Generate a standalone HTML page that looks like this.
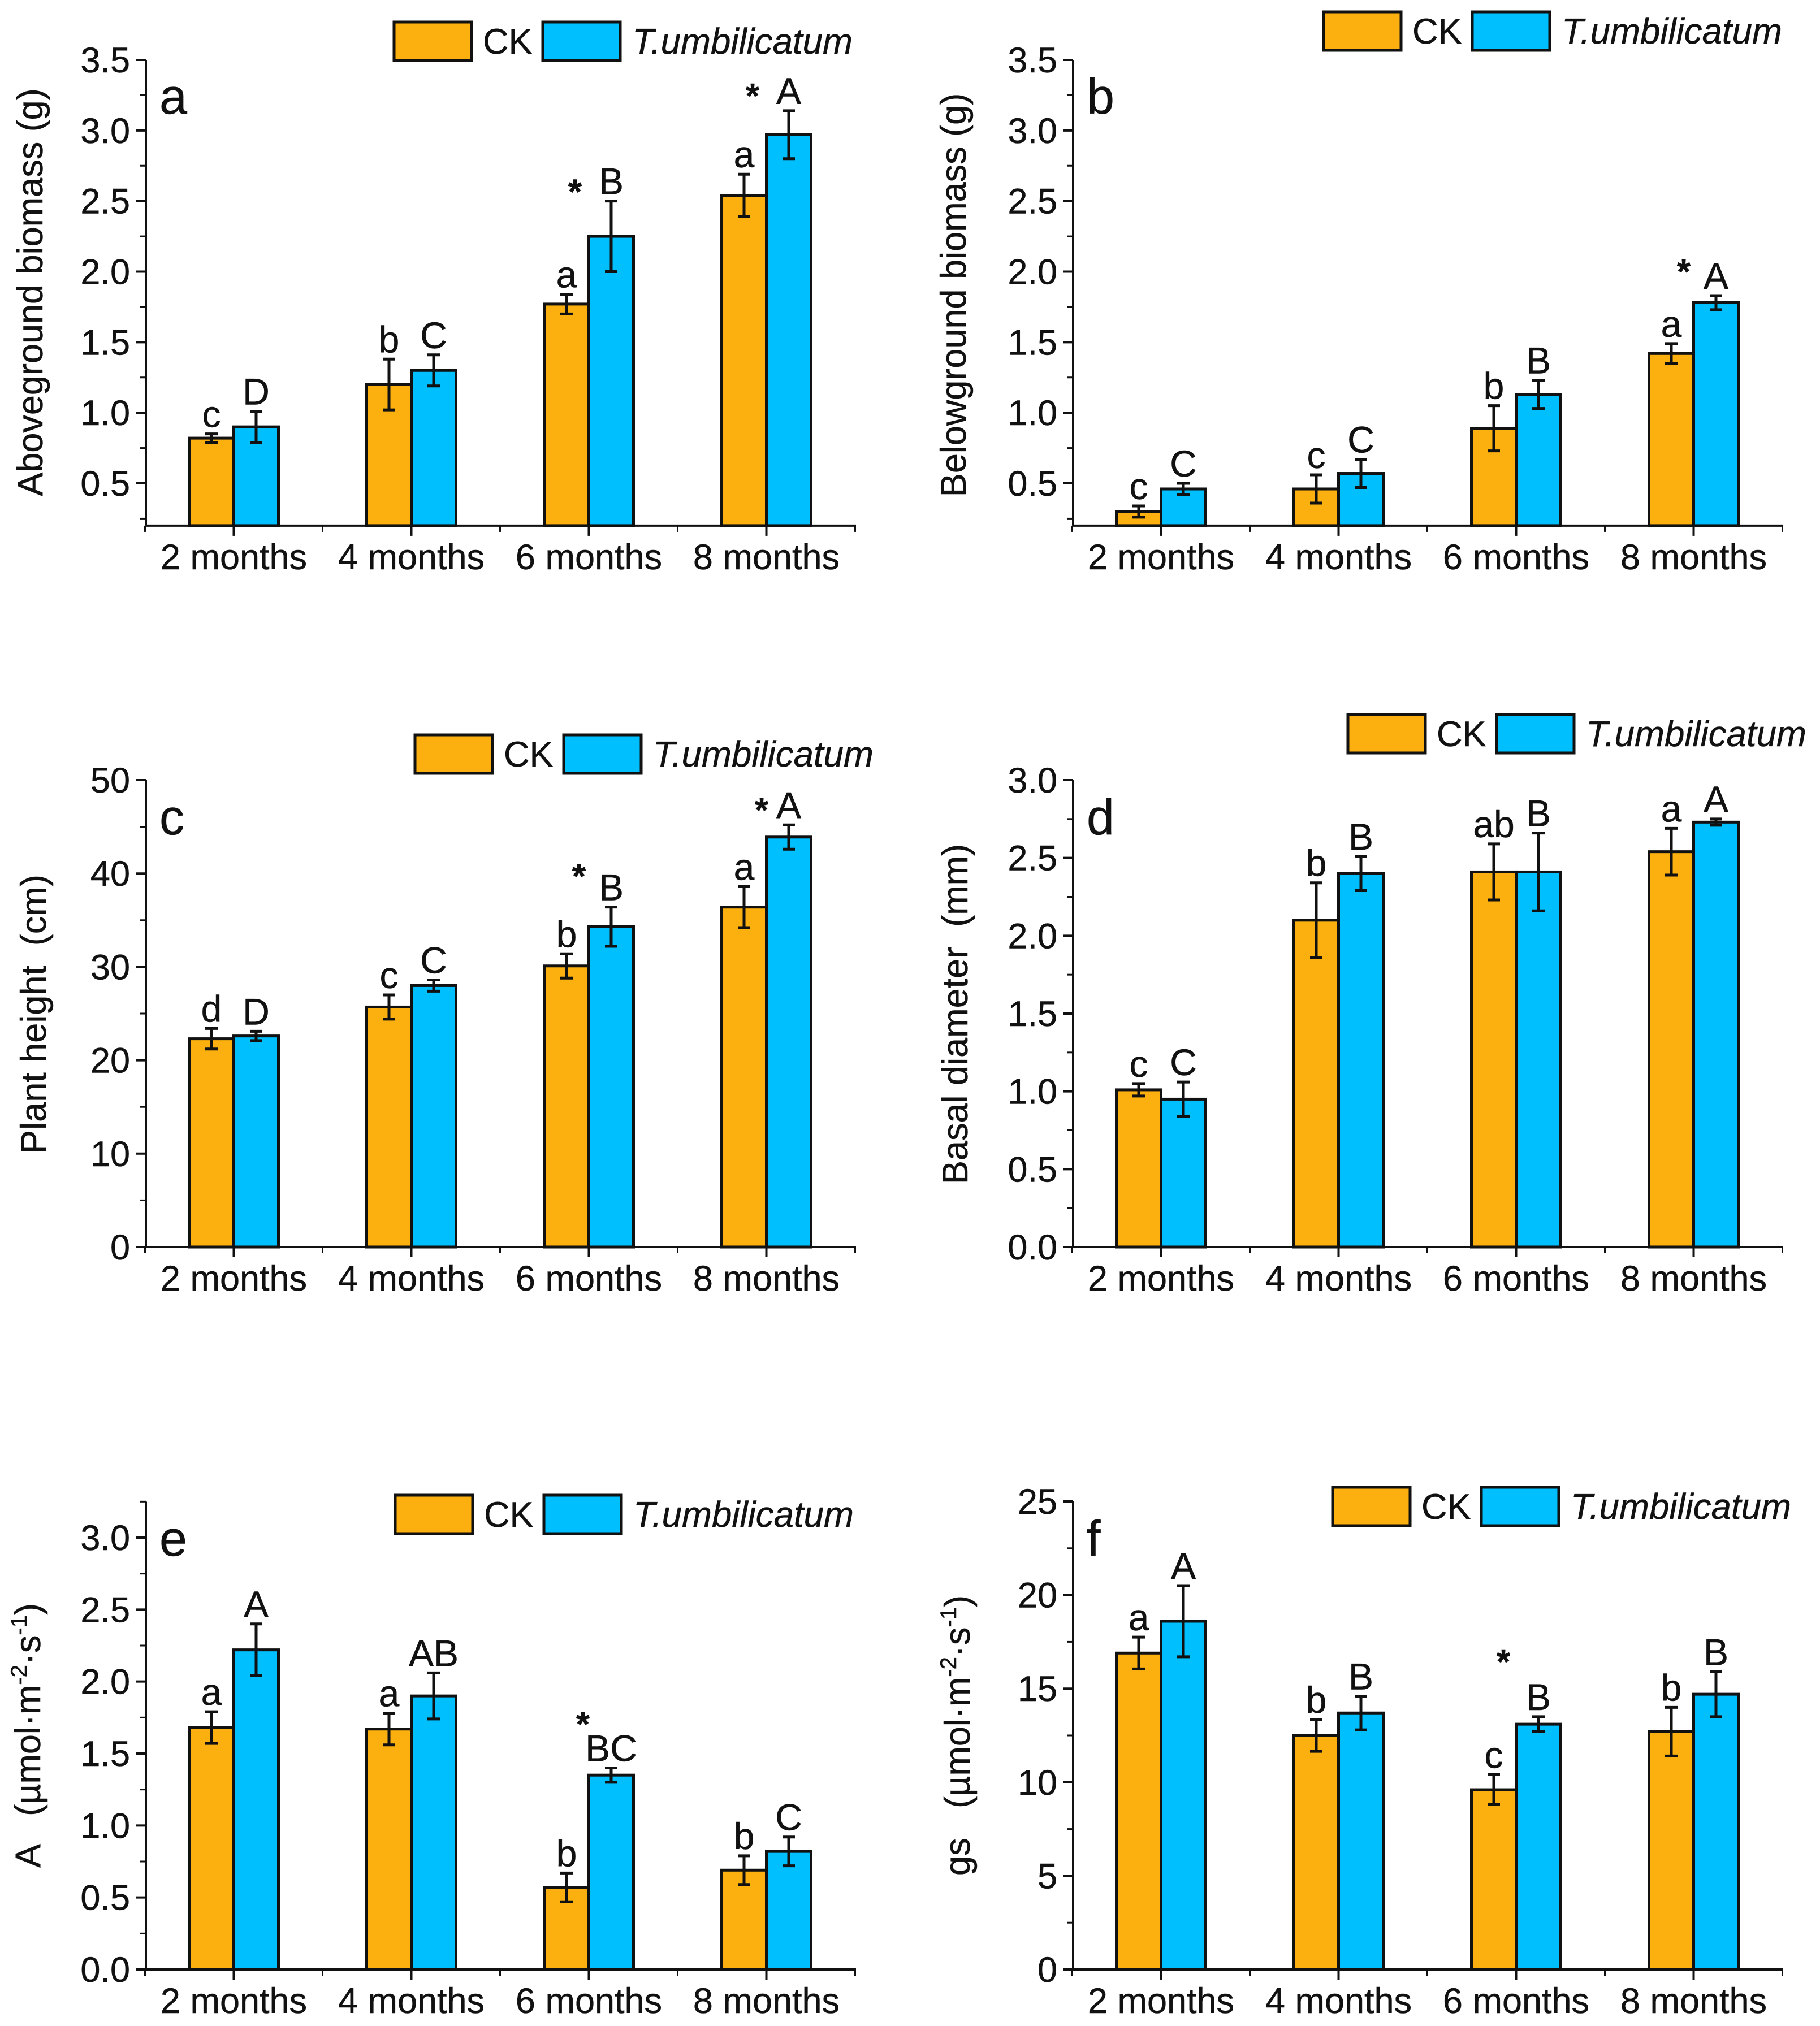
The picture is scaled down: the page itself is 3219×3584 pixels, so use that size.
<!DOCTYPE html>
<html lang="en">
<head>
<meta charset="utf-8">
<title>Growth and photosynthesis charts</title>
<style>
html,body{margin:0;padding:0;background:#fff;}
svg{display:block;}
text{font-family:"Liberation Sans",Arial,sans-serif;fill:#111;stroke:#111;stroke-width:0.5px;white-space:pre;}
</style>
</head>
<body>
<svg id="figure" xmlns="http://www.w3.org/2000/svg" width="3219" height="3584" viewBox="0 0 3219 3584"></svg>
<script>
const categories = ['2 months', '4 months', '6 months', '8 months'];

const aCk = [0.82, 1.2, 1.77, 2.54];
const aCkErr = [0.03, 0.18, 0.07, 0.15];
const aT = [0.9, 1.3, 2.25, 2.97];
const aTErr = [0.11, 0.11, 0.25, 0.17];
const aCkLetters = ['c', 'b', 'a', 'a'];
const aTLetters = ['D', 'C', 'B', 'A'];
const aTicks = ['0.5', '1.0', '1.5', '2.0', '2.5', '3.0', '3.5'];

const bCk = [0.3, 0.46, 0.89, 1.42];
const bCkErr = [0.04, 0.1, 0.16, 0.07];
const bT = [0.46, 0.57, 1.13, 1.78];
const bTErr = [0.04, 0.1, 0.1, 0.05];
const bCkLetters = ['c', 'c', 'b', 'a'];
const bTLetters = ['C', 'C', 'B', 'A'];
const bTicks = ['0.5', '1.0', '1.5', '2.0', '2.5', '3.0', '3.5'];

const cCk = [22.3, 25.7, 30.1, 36.4];
const cCkErr = [1.1, 1.3, 1.3, 2.2];
const cT = [22.6, 28, 34.3, 43.9];
const cTErr = [0.5, 0.6, 2.1, 1.3];
const cCkLetters = ['d', 'c', 'b', 'a'];
const cTLetters = ['D', 'C', 'B', 'A'];
const cTicks = ['0', '10', '20', '30', '40', '50'];

const dCk = [1.01, 2.1, 2.41, 2.54];
const dCkErr = [0.04, 0.24, 0.18, 0.15];
const dT = [0.95, 2.4, 2.41, 2.73];
const dTErr = [0.11, 0.11, 0.25, 0.02];
const dCkLetters = ['c', 'b', 'ab', 'a'];
const dTLetters = ['C', 'B', 'B', 'A'];
const dTicks = ['0.0', '0.5', '1.0', '1.5', '2.0', '2.5', '3.0'];

const eCk = [1.68, 1.67, 0.57, 0.69];
const eCkErr = [0.11, 0.11, 0.1, 0.1];
const eT = [2.22, 1.9, 1.35, 0.82];
const eTErr = [0.18, 0.16, 0.05, 0.1];
const eCkLetters = ['a', 'a', 'b', 'b'];
const eTLetters = ['A', 'AB', 'BC', 'C'];
const eTicks = ['0.0', '0.5', '1.0', '1.5', '2.0', '2.5', '3.0'];

const fCk = [16.9, 12.5, 9.6, 12.7];
const fCkErr = [0.85, 0.85, 0.8, 1.3];
const fT = [18.6, 13.7, 13.1, 14.7];
const fTErr = [1.9, 0.9, 0.4, 1.2];
const fCkLetters = ['a', 'b', 'c', 'b'];
const fTLetters = ['A', 'B', 'B', 'B'];
const fTicks = ['0', '5', '10', '15', '20', '25'];

const legendLabels = ['CK', 'T.umbilicatum'];

const NS = 'http://www.w3.org/2000/svg';
const FONT = 63;
const CK_FILL = '#FBB010';
const T_FILL = '#00BFFF';
const INK = '#111';

function add(parent, tag, attrs, content) {
  const el = document.createElementNS(NS, tag);
  for (const k in attrs) el.setAttribute(k, attrs[k]);
  if (content !== undefined) el.textContent = content;
  parent.appendChild(el);
  return el;
}

function drawPanel(p) {
  const svg = document.getElementById('figure');
  const g = add(svg, 'g', {});
  
  

  const yScale = v => p.y0 + (v - p.v0) * (p.y1 - p.y0) / (p.v1 - p.v0);
  const groupWidth = 314;
  const barWidth = 79;
  const groupX = i => p.left + groupWidth / 2 - 1.5 + groupWidth * i;
  const xEnd = p.left + groupWidth * categories.length;
  const axisBottom = yScale(p.vMin);
  const axisTop = yScale(p.vMax);

  const series = [
    { key: 'ck', vals: p.ck, errs: p.ckErr, letters: p.ckLetters, fill: CK_FILL, off: -barWidth },
    { key: 't', vals: p.t, errs: p.tErr, letters: p.tLetters, fill: T_FILL, off: 0 }
  ];

  series.forEach(s => {
    s.vals.forEach((v, i) => {
      const x = groupX(i) + s.off;
      const bar = add(g, 'rect', { x: x, y: yScale(v), width: barWidth, height: axisBottom - yScale(v), fill: s.fill, stroke: INK, 'stroke-width': 5 });
      
      
    });
  });

  series.forEach(s => {
    s.vals.forEach((v, i) => {
      const cx = groupX(i) + s.off + barWidth / 2;
      const hi = yScale(v + s.errs[i]);
      const lo = yScale(v - s.errs[i]);
      const d = 'M' + cx + ' ' + hi + 'V' + lo + 'M' + (cx - 11) + ' ' + hi + 'H' + (cx + 11) + 'M' + (cx - 11) + ' ' + lo + 'H' + (cx + 11);
      const err = add(g, 'path', { d: d, fill: 'none', stroke: INK, 'stroke-width': 5 });
      
      
      const lab = add(g, 'text', { x: cx, y: hi - 12, 'font-size': 66, 'text-anchor': 'middle' }, s.letters[i]);
      
      
    });
  });

  (p.stars || []).forEach(st => {
    const cx = groupX(st.group) + barWidth / 2;
    const top = yScale(p.t[st.group] + p.tErr[st.group]);
    const star = add(g, 'text', { x: cx + st.dx, y: top + st.dy + 22, 'font-size': 62, 'font-weight': 'bold', 'text-anchor': 'middle' }, '*');
    
    
  });

  const yAxis = add(g, 'line', { x1: p.left, x2: p.left, y1: axisTop, y2: axisBottom, stroke: INK, 'stroke-width': 4 });
  
  
  const xAxis = add(g, 'line', { x1: p.left, x2: xEnd, y1: axisBottom, y2: axisBottom, stroke: INK, 'stroke-width': 4 });
  
  

  p.ticks.forEach((t, i) => {
    const v = parseFloat(t);
    const y = yScale(v);
    const tick = add(g, 'line', { x1: p.left - 18, x2: p.left, y1: y, y2: y, stroke: INK, 'stroke-width': 4 });
    
    
    const lab = add(g, 'text', { x: p.left - 28, y: y + 22, 'font-size': FONT, 'text-anchor': 'end' }, t);
    
    
    const step = parseFloat(p.ticks[1]) - parseFloat(p.ticks[0]);
    [v - step / 2, v + step / 2].forEach(m => {
      if (m < p.vMin || m > p.vMax) return;
      if (i > 0 && m < v) return;
      const my = yScale(m);
      const minor = add(g, 'line', { x1: p.left - 10, x2: p.left, y1: my, y2: my, stroke: INK, 'stroke-width': 3 });
      
      
    });
  });

  categories.forEach((c, i) => {
    const x = groupX(i);
    const tick = add(g, 'line', { x1: x, x2: x, y1: axisBottom, y2: axisBottom + 18, stroke: INK, 'stroke-width': 4 });
    
    
    const lab = add(g, 'text', { x: x, y: axisBottom + 77, 'font-size': FONT, 'text-anchor': 'middle' }, c);
    
    
  });
  for (let i = 0; i <= categories.length; i++) {
    const x = p.left - 1.5 + groupWidth * i;
    const minor = add(g, 'line', { x1: x, x2: x, y1: axisBottom, y2: axisBottom + 11, stroke: INK, 'stroke-width': 3 });
    
    
  }

  const letter = add(g, 'text', { x: p.letterX, y: p.letterY, 'font-size': 88 }, p.id);
  
  

  const title = add(g, 'text', { x: 0, y: 0, 'font-size': FONT, 'text-anchor': 'middle', transform: 'translate(' + p.titleX + ' ' + p.titleY + ') rotate(-90)' });
  
  
  p.title.forEach(part => {
    const ts = add(title, 'tspan', part.sup ? { dy: -24, 'font-size': 40 } : (part.after ? { dy: 24 } : {}), part.text);
    
    
  });

  const legend = add(g, 'g', {});
  
  
  const sw1 = add(legend, 'rect', { x: p.legX, y: p.legY, width: 137, height: 68, fill: CK_FILL, stroke: INK, 'stroke-width': 5 });
  
  
  const lab1 = add(legend, 'text', { x: p.legX + 157, y: p.legY + 56, 'font-size': FONT }, legendLabels[0]);
  
  
  const sw2 = add(legend, 'rect', { x: p.legX + 263, y: p.legY, width: 137, height: 68, fill: T_FILL, stroke: INK, 'stroke-width': 5 });
  
  
  const lab2 = add(legend, 'text', { x: p.legX + 421, y: p.legY + 56, 'font-size': 63.6, 'font-style': 'italic' }, legendLabels[1]);
  
  
}

const unitsTitle = (first, gap) => [
  { text: first + gap + '(\u00B5mol\u00B7m' },
  { text: '-2', sup: true },
  { text: '\u00B7s', after: true },
  { text: '-1', sup: true },
  { text: ')', after: true }
];

drawPanel({ id: 'a', left: 258, v0: 0.5, v1: 3.5, y0: 855, y1: 106, vMin: 0.2, vMax: 3.5,
  ck: aCk, ckErr: aCkErr, t: aT, tErr: aTErr, ckLetters: aCkLetters, tLetters: aTLetters, ticks: aTicks,
  stars: [{ group: 2, dx: -64, dy: -17 }, { group: 3, dx: -64, dy: -27 }],
  letterX: 282, letterY: 201, titleX: 75, titleY: 517, title: [{ text: 'Aboveground biomass (g)' }], legX: 697, legY: 39 });

drawPanel({ id: 'b', left: 1898, v0: 0.5, v1: 3.5, y0: 855, y1: 106, vMin: 0.2, vMax: 3.5,
  ck: bCk, ckErr: bCkErr, t: bT, tErr: bTErr, ckLetters: bCkLetters, tLetters: bTLetters, ticks: bTicks,
  stars: [{ group: 3, dx: -57, dy: -43 }],
  letterX: 1922, letterY: 201, titleX: 1708, titleY: 522, title: [{ text: 'Belowground biomass (g)' }], legX: 2341, legY: 21 });

drawPanel({ id: 'c', left: 258, v0: 0, v1: 50, y0: 2206, y1: 1380, vMin: 0, vMax: 50,
  ck: cCk, ckErr: cCkErr, t: cT, tErr: cTErr, ckLetters: cCkLetters, tLetters: cTLetters, ticks: cTicks,
  stars: [{ group: 2, dx: -57, dy: -55 }, { group: 3, dx: -48, dy: -27 }],
  letterX: 282, letterY: 1476, titleX: 81, titleY: 1794, title: [{ text: 'Plant height  (cm)' }], legX: 734, legY: 1300 });

drawPanel({ id: 'd', left: 1898, v0: 0, v1: 3, y0: 2206, y1: 1380, vMin: 0, vMax: 3,
  ck: dCk, ckErr: dCkErr, t: dT, tErr: dTErr, ckLetters: dCkLetters, tLetters: dTLetters, ticks: dTicks,
  letterX: 1922, letterY: 1476, titleX: 1711, titleY: 1794, title: [{ text: 'Basal diameter  (mm)' }], legX: 2384, legY: 1264 });

drawPanel({ id: 'e', left: 258, v0: 0, v1: 3, y0: 3484, y1: 2720, vMin: 0, vMax: 3.25,
  ck: eCk, ckErr: eCkErr, t: eT, tErr: eTErr, ckLetters: eCkLetters, tLetters: eTLetters, ticks: eTicks,
  stars: [{ group: 2, dx: -50, dy: -78 }],
  letterX: 282, letterY: 2752, titleX: 71, titleY: 3070, title: unitsTitle('A', '   '), legX: 699, legY: 2645 });

drawPanel({ id: 'f', left: 1898, v0: 0, v1: 25, y0: 3484, y1: 2656, vMin: 0, vMax: 25,
  ck: fCk, ckErr: fCkErr, t: fT, tErr: fTErr, ckLetters: fCkLetters, tLetters: fTLetters, ticks: fTicks,
  stars: [{ group: 2, dx: -62, dy: -98 }],
  letterX: 1922, letterY: 2752, titleX: 1715, titleY: 3070, title: unitsTitle('gs', '   '), legX: 2357, legY: 2631 });
</script>
</body>
</html>
